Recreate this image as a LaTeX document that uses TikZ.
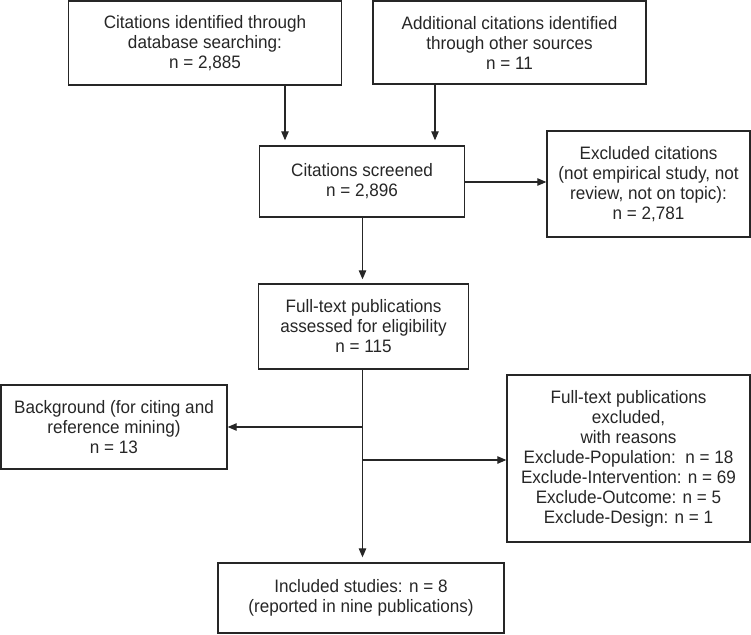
\documentclass[tikz,border=0pt]{standalone}
\usepackage{fontspec}
\setmainfont{Liberation Sans}[FakeStretch=0.95]
\usetikzlibrary{arrows.meta}
\begin{document}
\begin{tikzpicture}[x=1pt,y=-1pt,
  box/.style={draw=black!85,line width=1.4pt,inner sep=0pt,align=center,
    font=\fontsize{18}{20}\selectfont,text=black!85},
  arr/.style={draw=black!85,line width=1.1pt,-{Triangle[length=9pt,width=7.5pt]}}]
\useasboundingbox (0,0) rectangle (751,634);
% boxes: centre, then width x height
\node[box,minimum width=273pt,minimum height=84pt] (ident) at (205,43)
  {Citations identified through\\database searching:\\n = 2,885};
\node[box,minimum width=273pt,minimum height=83pt] (other) at (509.5,42.5)
  {Additional citations identified\\through other sources\\n = 11};
\node[box,minimum width=205pt,minimum height=71pt] (screen) at (362,181.5)
  {Citations screened\\n = 2,896};
\node[box,minimum width=203pt,minimum height=106pt] (exclc) at (648.5,184)
  {Excluded citations\\(not empirical study, not\\review, not on topic):\\n = 2,781};
\node[box,minimum width=210pt,minimum height=85pt] (full) at (363.5,326.5)
  {Full-text publications\\assessed for eligibility\\n = 115};
\node[box,minimum width=226pt,minimum height=84pt] (backg) at (114,427)
  {Background (for citing and\\reference mining)\\n = 13};
\node[box,minimum width=243pt,minimum height=167pt] (exclf) at (628.5,458.5)
  {Full-text publications\\excluded,\\with reasons\\Exclude-Population:\ \ n = 18\\Exclude-Intervention: n = 69\\Exclude-Outcome: n = 5\\Exclude-Design: n = 1};
\node[box,minimum width=286pt,minimum height=70pt] (incl) at (361,598)
  {Included studies: n = 8\\(reported in nine publications)};
% connectors
\coordinate (splitL) at (362.5,427);
\coordinate (splitR) at (362.5,460);
\draw[arr,shorten >=5pt] (285,0 |- ident.south) -- (285,0 |- screen.north);
\draw[arr,shorten >=5pt] (435,0 |- other.south) -- (435,0 |- screen.north);
\draw[arr] (screen.east |- 0,182) -- (exclc.west |- 0,182);
\draw[arr,shorten >=4pt] (362.5,0 |- screen.south) -- (362.5,0 |- full.north);
\draw[arr,shorten >=5pt] (362.5,0 |- full.south) -- (362.5,0 |- incl.north);
\draw[arr] (splitL) -- (backg.east |- splitL);
\draw[arr] (splitR) -- (exclf.west |- splitR);
\end{tikzpicture}
\end{document}
